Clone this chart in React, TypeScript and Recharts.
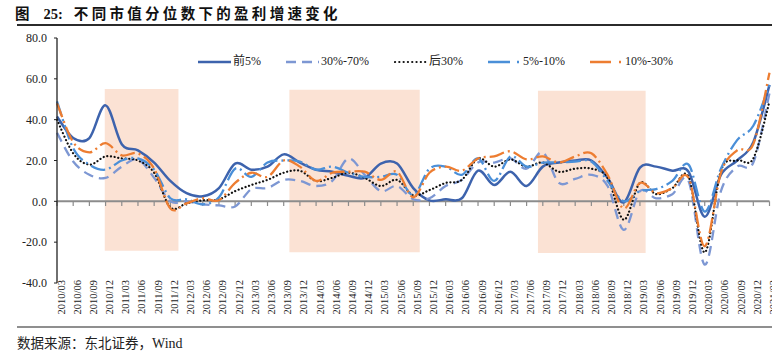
import React from 'react'
import { LineChart, Line, XAxis, YAxis, ReferenceArea, ReferenceLine } from 'recharts'

const quarters = [
  '2010/03', '2010/06', '2010/09', '2010/12',
  '2011/03', '2011/06', '2011/09', '2011/12',
  '2012/03', '2012/06', '2012/09', '2012/12',
  '2013/03', '2013/06', '2013/09', '2013/12',
  '2014/03', '2014/06', '2014/09', '2014/12',
  '2015/03', '2015/06', '2015/09', '2015/12',
  '2016/03', '2016/06', '2016/09', '2016/12',
  '2017/03', '2017/06', '2017/09', '2017/12',
  '2018/03', '2018/06', '2018/09', '2018/12',
  '2019/03', '2019/06', '2019/09', '2019/12',
  '2020/03', '2020/06', '2020/09', '2020/12',
  '2021/03',
]

// 前5%
const top5 = [
  41.5, 31, 31, 47, 28, 25, 19, 10, 4, 2.5,
  6.5, 18.5, 15.5, 17, 23, 19, 15.5, 14.5, 12.5, 11.5,
  18.5, 18.5, 6.5, 0.5, 1, 1.5, 15, 8, 14.5, 7.5,
  17, 19, 20, 20, 11.5, -0.5, 16.5, 17, 15, 14.5,
  -7.5, 13, 20, 29, 57,
]
// 30%-70%
const mid3070 = [
  33.5, 19.5, 13, 11.5, 17, 20.5, 11.5, 0, 0, -1.5,
  -2, -2.5, 6, 6.5, 10.5, 10, 7.5, 10, 21, 13,
  5, 7.5, 1, 1.5, 7.5, 10.5, 19, 19, 21, 16,
  24, 9, 11, 13, 7.5, -14, 5, 1.5, 3.5, 10,
  -31, 5, 17, 19, 53,
]
// 后30%
const bottom30 = [
  40, 23.5, 18, 22, 21, 20, 14, -3, -1, 0.5,
  1, 5, 8, 10.5, 14, 15, 10, 11.5, 14, 11.5,
  7.5, 10.5, 3, 5.5, 9, 10.5, 21, 17, 20.5, 17,
  19, 14.5, 16, 16, 11.5, -9, 9, 3.5, 6.5, 12,
  -25, 15, 20, 21, 49,
]
// 5%-10%
const p510 = [
  49, 26, 18, 15.5, 20, 21, 15.5, 1.5, 1, -1.5,
  2, 16, 12, 19, 20, 19.5, 15.5, 17, 14, 12,
  12, 13, 3, 16, 17, 13, 21, 10, 22, 17,
  19, 19, 19.5, 19.5, 10, 0, 5, 6, 10, 18,
  -5, 16, 30, 37, 57,
]
// 10%-30%
const p1030 = [
  48, 29, 24, 28.5, 22.5, 23.5, 16, -3.5, -1, 1.5,
  0.5, 9, 14, 12, 20, 17, 10, 14, 14.5, 14.5,
  10.5, 14.5, 2, 14, 17, 15, 21, 22, 24.5, 20.5,
  22, 19, 22, 23.5, 13, -3.5, 9, 4, 6.5, 11.5,
  -22, 14, 25, 28, 63,
]

// shaded periods, in quarter-index / value units
const shadeFrom = [2.95, 14.35, 29.7]
const shadeTo = [7.5, 22.4, 36.35]
const shadeTop = [55, 54.7, 54.2]
const shadeBottom = [-24.2, -24.9, -25.3]

const yTicks = [-40, -20, 0, 20, 40, 60, 80]

const rows = quarters.map((q, i) => ({
  idx: i,
  q,
  top5: top5[i],
  mid3070: mid3070[i],
  bottom30: bottom30[i],
  p510: p510[i],
  p1030: p1030[i],
}))

const series = [
  { key: 'top5', name: '前5%', color: '#3d63ad', width: 2.5, dash: undefined, cap: 'butt', legendDash: undefined },
  { key: 'mid3070', name: '30%-70%', color: '#7d97d3', width: 2.3, dash: '10 6', cap: 'butt', legendDash: '10 6' },
  { key: 'bottom30', name: '后30%', color: '#111111', width: 2.2, dash: '0.1 3.6', cap: 'round', legendDash: '0.1 4.2' },
  { key: 'p510', name: '5%-10%', color: '#4a8fd8', width: 2.3, dash: '15 4 2 4', cap: 'butt', legendDash: '22 7 2 20' },
  { key: 'p1030', name: '10%-30%', color: '#ed7d31', width: 2.3, dash: '15 4 2 4', cap: 'butt', legendDash: '21 8 2 20' },
]

const serif = "'Liberation Serif', 'Noto Sans CJK SC', serif"
const cjk = "'Noto Sans CJK SC', sans-serif"

// Excel-style smoothed line (Catmull-Rom through the points)
function smoothCurve(context: any) {
  let pts: number[][] = []
  return {
    areaStart() {},
    areaEnd() {},
    lineStart() {
      pts = []
    },
    point(x: number, y: number) {
      pts.push([+x, +y])
    },
    lineEnd() {
      if (!pts.length) return
      context.moveTo(pts[0][0], pts[0][1])
      for (let i = 0; i < pts.length - 1; i++) {
        const p0 = pts[i - 1] || pts[i]
        const p1 = pts[i]
        const p2 = pts[i + 1]
        const p3 = pts[i + 2] || p2
        context.bezierCurveTo(
          p1[0] + (p2[0] - p0[0]) / 6,
          p1[1] + (p2[1] - p0[1]) / 6,
          p2[0] - (p3[0] - p1[0]) / 6,
          p2[1] - (p3[1] - p1[1]) / 6,
          p2[0],
          p2[1],
        )
      }
    },
  }
}

const QuarterTick = (props: any) => {
  const { x, y, payload } = props
  return (
    <text
      x={0}
      y={0}
      transform={`translate(${x + 7.5},${y - 3}) rotate(-90)`}
      textAnchor="end"
      fontSize={10.5}
      fontFamily={serif}
      fill="#222"
    >
      {quarters[payload.value]}
    </text>
  )
}

function LegendRow() {
  return (
    <div
      style={{
        position: 'absolute',
        left: 198,
        top: 53,
        display: 'flex',
        alignItems: 'center',
        gap: 25,
        fontFamily: serif,
        fontSize: 12,
        color: '#222',
        lineHeight: '17px',
      }}
    >
      {series.map((s) => (
        <div key={s.key} style={{ display: 'flex', alignItems: 'center' }}>
          <svg width={33} height={10} style={{ marginRight: 2 }}>
            <line
              x1={s.cap === 'round' ? 1 : 0}
              y1={5}
              x2={33}
              y2={5}
              stroke={s.color}
              strokeWidth={s.width}
              strokeDasharray={s.legendDash}
              strokeLinecap={s.cap as any}
            />
          </svg>
          <span>{s.name}</span>
        </div>
      ))}
    </div>
  )
}

export default function App() {
  return (
    <div style={{ position: 'absolute', left: 0, top: 0, width: 772, height: 359, background: '#fff', overflow: 'hidden' }}>
      <div
        style={{
          position: 'absolute',
          left: 15,
          top: 3,
          fontFamily: cjk,
          fontWeight: 700,
          fontSize: 14.5,
          lineHeight: '20px',
          color: '#111',
          whiteSpace: 'nowrap',
        }}
      >
        <span>图</span>
        <span style={{ fontFamily: serif, marginLeft: 14 }}>25:</span>
        <span style={{ marginLeft: 11, letterSpacing: 3.3 }}>不同市值分位数下的盈利增速变化</span>
      </div>
      <div style={{ position: 'absolute', left: 17, top: 24, width: 755, height: 2, background: '#2b2b2b' }} />

      <div style={{ position: 'absolute', left: 0, top: 0 }}>
        <LineChart width={772} height={359} data={rows} margin={{ top: 38, right: 2.5, bottom: 32, left: 0 }}>
          {shadeFrom.map((x1, i) => (
            <ReferenceArea
              key={`shade-${i}`}
              x1={x1}
              x2={shadeTo[i]}
              y1={shadeBottom[i]}
              y2={shadeTop[i]}
              fill="#fbe2d4"
              fillOpacity={1}
              stroke="none"
              ifOverflow="extendDomain"
            />
          ))}
          <XAxis
            dataKey="idx"
            type="number"
            domain={[0, quarters.length - 1]}
            ticks={quarters.map((_, i) => i)}
            interval={0}
            axisLine={false}
            tickLine={false}
            tickSize={0}
            tickMargin={0}
            height={44}
            tick={<QuarterTick />}
          />
          <YAxis
            domain={[-40, 80]}
            ticks={yTicks}
            interval={0}
            width={57}
            tickFormatter={(v: number) => v.toFixed(1)}
            axisLine={{ stroke: '#222', strokeWidth: 1.3 }}
            tickLine={{ stroke: '#222' }}
            tickSize={3}
            tickMargin={7}
            tick={{ fontSize: 12, fontFamily: serif, fill: '#222' }}
          />
          <ReferenceLine y={0} stroke="#8c8c8c" strokeWidth={2} />
          {quarters.map((q, i) => (
            <ReferenceLine
              key={`tk-${q}`}
              segment={[{ x: i, y: 0 }, { x: i, y: -2.3 }]}
              stroke="#8c8c8c"
              strokeWidth={1.2}
            />
          ))}
          {series.map((s) => (
            <Line
              key={s.key}
              dataKey={s.key}
              name={s.name}
              type={smoothCurve as any}
              stroke={s.color}
              strokeWidth={s.width}
              strokeDasharray={s.dash}
              strokeLinecap={s.cap as any}
              dot={false}
              activeDot={false}
              isAnimationActive={false}
            />
          ))}
        </LineChart>
      </div>

      <LegendRow />

      <div style={{ position: 'absolute', left: 17, top: 326, width: 755, height: 1.6, background: '#8f8f8f' }} />
      <div
        style={{
          position: 'absolute',
          left: 17,
          top: 333,
          fontFamily: cjk,
          fontSize: 13.5,
          lineHeight: '18px',
          color: '#222',
          whiteSpace: 'nowrap',
        }}
      >
        数据来源：东北证券，<span style={{ fontFamily: serif, fontSize: 14 }}>Wind</span>
      </div>
    </div>
  )
}
